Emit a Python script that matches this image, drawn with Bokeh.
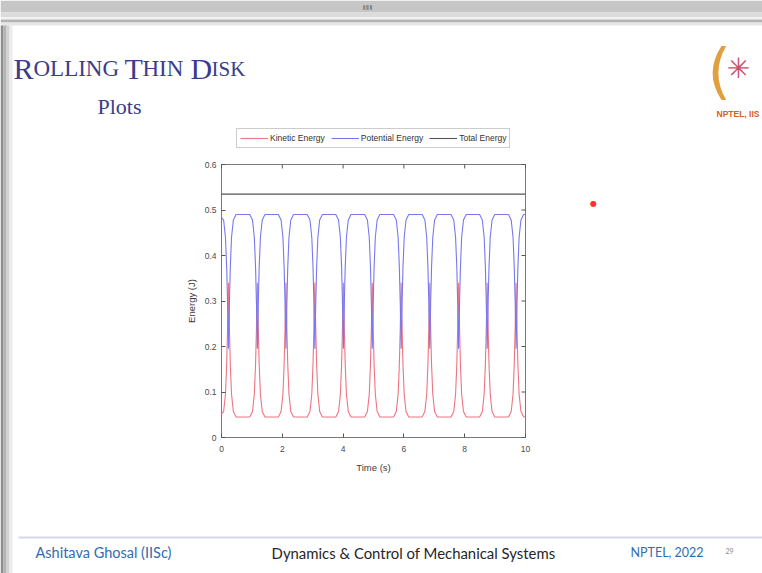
from bokeh.plotting import figure
from bokeh.models import (Range1d, Legend, LegendItem, Label, BoxAnnotation, FixedTicker)
from bokeh.embed import file_html
from bokeh.resources import INLINE

# ---------------- data ----------------
time_s = [
    0.00, 0.07, 0.13, 0.17, 0.20, 0.23, 0.26, 0.29, 0.33, 0.39, 0.48, 0.70,
    0.93, 1.02, 1.08, 1.12, 1.15, 1.18, 1.21, 1.24, 1.28, 1.34, 1.43, 1.65,
    1.87, 1.96, 2.02, 2.06, 2.09, 2.12, 2.15, 2.18, 2.22, 2.28, 2.37, 2.60,
    2.82, 2.91, 2.97, 3.01, 3.04, 3.07, 3.10, 3.13, 3.17, 3.23, 3.32, 3.54,
    3.76, 3.85, 3.91, 3.95, 3.98, 4.01, 4.04, 4.07, 4.11, 4.17, 4.26, 4.49,
    4.71, 4.80, 4.86, 4.90, 4.93, 4.96, 4.99, 5.02, 5.06, 5.12, 5.21, 5.43,
    5.66, 5.75, 5.81, 5.85, 5.88, 5.91, 5.94, 5.97, 6.01, 6.07, 6.16, 6.38,
    6.60, 6.69, 6.75, 6.79, 6.82, 6.85, 6.88, 6.91, 6.95, 7.01, 7.10, 7.32,
    7.55, 7.64, 7.70, 7.74, 7.77, 7.80, 7.83, 7.86, 7.90, 7.96, 8.05, 8.27,
    8.49, 8.58, 8.64, 8.68, 8.71, 8.74, 8.77, 8.80, 8.84, 8.90, 8.99, 9.22,
    9.44, 9.53, 9.59, 9.63, 9.66, 9.69, 9.72, 9.75, 9.79, 9.85, 9.94, 10.00,
]
kinetic_energy = [
    0.052, 0.057, 0.095, 0.160, 0.240, 0.340, 0.240, 0.160, 0.095, 0.057, 0.045, 0.045,
    0.045, 0.057, 0.095, 0.160, 0.240, 0.340, 0.240, 0.160, 0.095, 0.057, 0.045, 0.045,
    0.045, 0.057, 0.095, 0.160, 0.240, 0.340, 0.240, 0.160, 0.095, 0.057, 0.045, 0.045,
    0.045, 0.057, 0.095, 0.160, 0.240, 0.340, 0.240, 0.160, 0.095, 0.057, 0.045, 0.045,
    0.045, 0.057, 0.095, 0.160, 0.240, 0.340, 0.240, 0.160, 0.095, 0.057, 0.045, 0.045,
    0.045, 0.057, 0.095, 0.160, 0.240, 0.340, 0.240, 0.160, 0.095, 0.057, 0.045, 0.045,
    0.045, 0.057, 0.095, 0.160, 0.240, 0.340, 0.240, 0.160, 0.095, 0.057, 0.045, 0.045,
    0.045, 0.057, 0.095, 0.160, 0.240, 0.340, 0.240, 0.160, 0.095, 0.057, 0.045, 0.045,
    0.045, 0.057, 0.095, 0.160, 0.240, 0.340, 0.240, 0.160, 0.095, 0.057, 0.045, 0.045,
    0.045, 0.057, 0.095, 0.160, 0.240, 0.340, 0.240, 0.160, 0.095, 0.057, 0.045, 0.045,
    0.045, 0.057, 0.095, 0.160, 0.240, 0.340, 0.240, 0.160, 0.095, 0.057, 0.045, 0.045,
]
potential_energy = [
    0.483, 0.478, 0.440, 0.375, 0.295, 0.195, 0.295, 0.375, 0.440, 0.478, 0.490, 0.490,
    0.490, 0.478, 0.440, 0.375, 0.295, 0.195, 0.295, 0.375, 0.440, 0.478, 0.490, 0.490,
    0.490, 0.478, 0.440, 0.375, 0.295, 0.195, 0.295, 0.375, 0.440, 0.478, 0.490, 0.490,
    0.490, 0.478, 0.440, 0.375, 0.295, 0.195, 0.295, 0.375, 0.440, 0.478, 0.490, 0.490,
    0.490, 0.478, 0.440, 0.375, 0.295, 0.195, 0.295, 0.375, 0.440, 0.478, 0.490, 0.490,
    0.490, 0.478, 0.440, 0.375, 0.295, 0.195, 0.295, 0.375, 0.440, 0.478, 0.490, 0.490,
    0.490, 0.478, 0.440, 0.375, 0.295, 0.195, 0.295, 0.375, 0.440, 0.478, 0.490, 0.490,
    0.490, 0.478, 0.440, 0.375, 0.295, 0.195, 0.295, 0.375, 0.440, 0.478, 0.490, 0.490,
    0.490, 0.478, 0.440, 0.375, 0.295, 0.195, 0.295, 0.375, 0.440, 0.478, 0.490, 0.490,
    0.490, 0.478, 0.440, 0.375, 0.295, 0.195, 0.295, 0.375, 0.440, 0.478, 0.490, 0.490,
    0.490, 0.478, 0.440, 0.375, 0.295, 0.195, 0.295, 0.375, 0.440, 0.478, 0.490, 0.490,
]
total_time = [0.0, 10.0]
total_energy = [0.535, 0.535]

x_ticks = [0, 2, 4, 6, 8, 10]
y_ticks = [0, 0.1, 0.2, 0.3, 0.4, 0.5, 0.6]
y_tick_labels = ["0", "0.1", "0.2", "0.3", "0.4", "0.5", "0.6"]
series_names = ["Kinetic Energy", "Potential Energy", "Total Energy"]

# ---------------- layout constants (pixels) ----------------
W, H = 762, 573
AX_L, AX_R, AX_T, AX_B = 221, 525, 164, 437   # chart box on the canvas
x0, x1 = x_ticks[0], x_ticks[-1]
y0, y1 = y_ticks[0], y_ticks[-1]
ppx = (AX_R - AX_L) / (x1 - x0)
ppy = (AX_B - AX_T) / (y1 - y0)

p = figure(width=W, height=H, output_backend="svg", toolbar_location=None, title=None,
           x_range=Range1d(x0 - AX_L / ppx, x1 + (W - AX_R) / ppx),
           y_range=Range1d(y0 - (H - AX_B) / ppy, y1 + AX_T / ppy),
           min_border=0, min_border_left=0, min_border_right=0,
           min_border_top=0, min_border_bottom=0)
p.background_fill_color = "white"
p.border_fill_color = "white"
p.outline_line_color = None
p.xgrid.visible = False
p.ygrid.visible = False


def sx(X):
    return X


def sy(Y):
    return H - Y


def box(xa, xb, ya, yb, color):
    p.add_layout(BoxAnnotation(left=sx(xa), right=sx(xb), top=sy(ya), bottom=sy(yb),
                               left_units="screen", right_units="screen",
                               top_units="screen", bottom_units="screen",
                               fill_color=color, fill_alpha=1, line_color=None,
                               level="underlay"))


# slide decorations
box(0, W, 0, 12, "#c6c6c6")
box(0, W, 12, 17, "#dcdcdc")
box(0, W, 17, 19, "#f4f4f4")
box(0, W, 19, 22, "#b4b4b4")
box(0, W, 22, 25, "#e6e6e6")
box(0, 3, 25, H, "#8e8e8e")
box(3, 6, 25, H, "#b2b2b2")
box(6, 9, 25, H, "#d2d2d2")
box(9, 12, 25, H, "#ececec")
box(18, W, 536, 538, "#d3dae6")

# chart box and mirror ticks
grey = "#7a7a7a"
p.quad(left=x0, right=x1, bottom=y0, top=y1, fill_color=None, line_color=grey,
       line_width=1)
tick_len = 4
p.segment(x0=x_ticks, y0=[y1] * len(x_ticks), x1=x_ticks,
          y1=[y1 - tick_len / ppy] * len(x_ticks), line_color="#555555")
p.segment(x0=[x1] * len(y_ticks), y0=y_ticks, x1=[x1 - tick_len / ppx] * len(y_ticks),
          y1=y_ticks, line_color="#555555")

# data lines
kr = p.line(time_s, kinetic_energy, line_color="#ee7482", line_width=1.1)
pr = p.line(time_s, potential_energy, line_color="#7878ee", line_width=1.1)
tr = p.line(total_time, total_energy, line_color="#555555", line_width=1.1)

# axes
p.xaxis.fixed_location = y0
p.yaxis.fixed_location = x0
p.xaxis.bounds = (x0, x1)
p.yaxis.bounds = (y0, y1)
for ax in (p.xaxis[0], p.yaxis[0]):
    ax.major_tick_in = tick_len
    ax.major_tick_out = 0
    ax.minor_tick_in = 0
    ax.minor_tick_out = 0
    ax.axis_line_color = None
    ax.major_tick_line_color = "#555555"
    ax.major_label_text_font = "Liberation Sans"
    ax.major_label_text_font_size = "8.5px"
    ax.major_label_text_color = "#4a4a4a"
    ax.axis_label_text_font = "Liberation Sans"
    ax.axis_label_text_font_size = "9.5px"
    ax.axis_label_text_font_style = "normal"
    ax.axis_label_text_color = "#3a3a3a"

p.xaxis.ticker = FixedTicker(ticks=x_ticks)
p.yaxis.ticker = FixedTicker(ticks=y_ticks)
p.yaxis.major_label_overrides = {t: s for t, s in zip(y_ticks, y_tick_labels)}
p.xaxis.axis_label = "Time (s)"
p.yaxis.axis_label = "Energy (J)"
p.xaxis.major_label_standoff = 8
p.xaxis.axis_label_standoff = 7
p.yaxis.major_label_standoff = 5
p.yaxis.axis_label_standoff = 5

# legend
legend = Legend(items=[LegendItem(label=series_names[0], renderers=[kr]),
                       LegendItem(label=series_names[1], renderers=[pr]),
                       LegendItem(label=series_names[2], renderers=[tr])],
                orientation="horizontal", location=(236, H - 148))
legend.label_text_font = "Liberation Sans"
legend.label_text_font_size = "8.5px"
legend.label_text_color = "#333333"
legend.glyph_width = 28
legend.glyph_height = 12
legend.label_height = 12
legend.label_standoff = 2
legend.spacing = 6
legend.padding = 3
legend.margin = 0
legend.border_line_color = "#9a9a9a"
legend.background_fill_color = "white"
legend.background_fill_alpha = 1
p.add_layout(legend)


def label(X, Y, text, size, color, font="Liberation Serif", style="normal",
          align="left", baseline="alphabetic", angle=0):
    p.add_layout(Label(x=sx(X), y=sy(Y), x_units="screen", y_units="screen", text=text,
                       text_font=font, text_font_size=size, text_color=color,
                       text_font_style=style, text_align=align, text_baseline=baseline,
                       angle=angle))


tc = "#3c3c8a"
label(13, 68, "R", "30px", tc)
label(33, 68, "OLLING", "23px", tc)
label(124, 68, "T", "30px", tc)
label(142, 68, "HIN", "23px", tc)
label(190, 68, "D", "30px", tc)
label(211, 68, "ISK", "21px", tc)
label(97, 106, "Plots", "22px", tc)

label(35, 552, "Ashitava Ghosal (IISc)", "14.5px", "#2f6db3", font="Lato", baseline="middle")
label(413, 552, "Dynamics & Control of Mechanical Systems", "14.9px", "#262626",
      font="Lato", align="center", baseline="middle")
label(630, 552, "NPTEL, 2022", "12.5px", "#2f6db3", font="Lato", baseline="middle")
label(725, 550, "29", "7px", "#8a8a8a", font="Lato", baseline="middle")

# logo (approximation) and laser dot
label(707, 70, "(", "60px", "#e0a040", font="DejaVu Sans", baseline="middle")
label(738, 68, "\u2733", "28px", "#c8506a", font="DejaVu Sans", align="center",
      baseline="middle")
label(716, 113, "NPTEL, IIS", "8.5px", "#d0602a", font="Liberation Sans", style="bold")
label(593, 203, "\u25cf", "8px", "#ff3030", font="DejaVu Sans", align="center",
      baseline="middle")
label(367, 6, "\u25ae\u25ae\u25ae", "6px", "#8a8a8a", font="DejaVu Sans", align="center",
      baseline="middle")

open("out.html", "w").write(file_html(p, INLINE))
